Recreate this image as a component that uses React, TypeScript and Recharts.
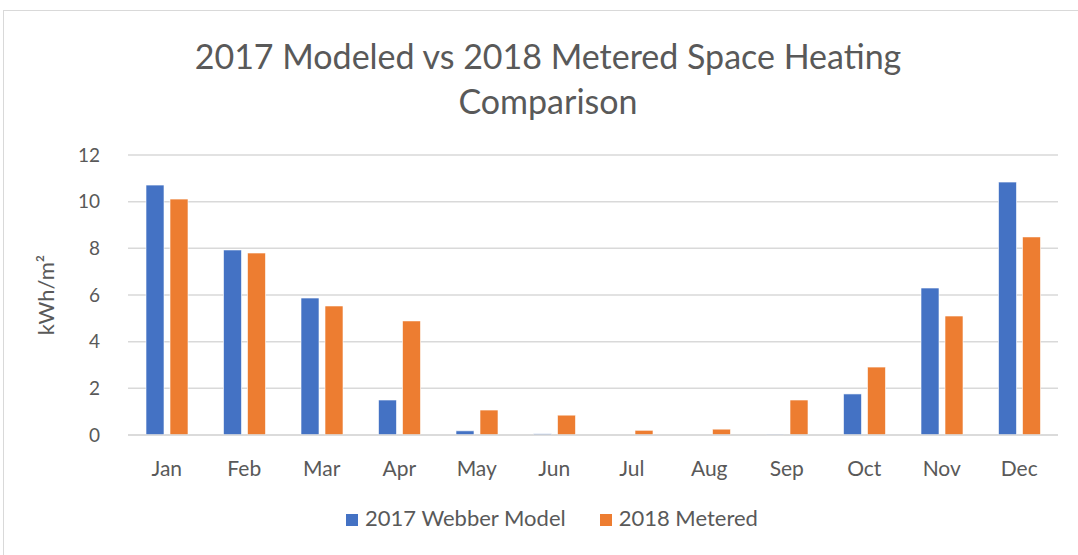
import React from "react";
import {
  Bar,
  BarChart,
  CartesianGrid,
  Legend,
  XAxis,
  YAxis,
} from "recharts";

const months = ["Jan", "Feb", "Mar", "Apr", "May", "Jun", "Jul", "Aug", "Sep", "Oct", "Nov", "Dec"];
const webberModel = [10.71, 7.93, 5.87, 1.5, 0.18, 0.05, 0, 0, 0.03, 1.76, 6.3, 10.84];
const metered = [10.11, 7.8, 5.53, 4.89, 1.07, 0.85, 0.2, 0.25, 1.5, 2.91, 5.1, 8.49];
const yTicks = [0, 2, 4, 6, 8, 10, 12];

const data = months.map((m, i) => ({
  month: m,
  model: webberModel[i],
  metered: metered[i],
}));

const FONT = "Lato, 'Open Sans', sans-serif";
const TEXT = "#595959";

export default function App() {
  return (
    <div
      style={{
        position: "fixed",
        left: 0,
        top: 0,
        width: 1078,
        height: 555,
        background: "#fff",
        overflow: "hidden",
        fontFamily: FONT,
      }}
    >
      <div
        style={{
          position: "absolute",
          left: 3,
          top: 10,
          width: 1100,
          height: 600,
          border: "1px solid #d9d9d9",
        }}
      />
      <div
        style={{
          position: "absolute",
          left: 0,
          top: 33,
          width: 1096,
          textAlign: "center",
          color: TEXT,
          fontSize: 34,
          lineHeight: "45px",
        }}
      >
        2017 Modeled vs 2018 Metered Space Heating
        <br />
        Comparison
      </div>
      <div style={{ position: "absolute", left: 0, top: 0 }}>
        <BarChart
          width={1078}
          height={555}
          data={data}
          margin={{ top: 155, right: 20, left: 68, bottom: 30 }}
          barSize={18}
          barGap={6}
        >
          <CartesianGrid vertical={false} stroke="#d9d9d9" strokeWidth={1.5} />
          <XAxis
            dataKey="month"
            axisLine={{ stroke: "#d9d9d9", strokeWidth: 1.5 }}
            tickLine={false}
            tickMargin={20}
            height={40}
            tick={{ fontSize: 21, fill: TEXT, fontFamily: FONT }}
          />
          <YAxis
            domain={[0, 12]}
            ticks={yTicks}
            axisLine={false}
            tickLine={false}
            width={60}
            tickMargin={22}
            tick={{ fontSize: 19, fill: TEXT, fontFamily: FONT }}
            label={{
              value: "kWh/m²",
              angle: -90,
              position: "insideLeft",
              offset: -22,
              fontSize: 22,
              fill: TEXT,
              fontFamily: FONT,
              style: { textAnchor: "middle" },
            }}
          />
          <Legend
            verticalAlign="bottom"
            iconType="square"
            iconSize={12}
            height={50}
            wrapperStyle={{
              top: 504,
              bottom: "auto",
              left: 74,
              fontSize: 22,
              fontFamily: FONT,
              color: TEXT,
            }}
            formatter={(value) => (
              <span style={{ color: TEXT, marginRight: 24, marginLeft: 3 }}>{value}</span>
            )}
          />
          <Bar
            dataKey="model"
            name="2017 Webber Model"
            fill="#4472C4"
            stroke="#ffffff"
            strokeOpacity={0.6}
            isAnimationActive={false}
          />
          <Bar
            dataKey="metered"
            name="2018 Metered"
            fill="#ED7D31"
            stroke="#ffffff"
            strokeOpacity={0.6}
            isAnimationActive={false}
          />
        </BarChart>
      </div>
    </div>
  );
}
